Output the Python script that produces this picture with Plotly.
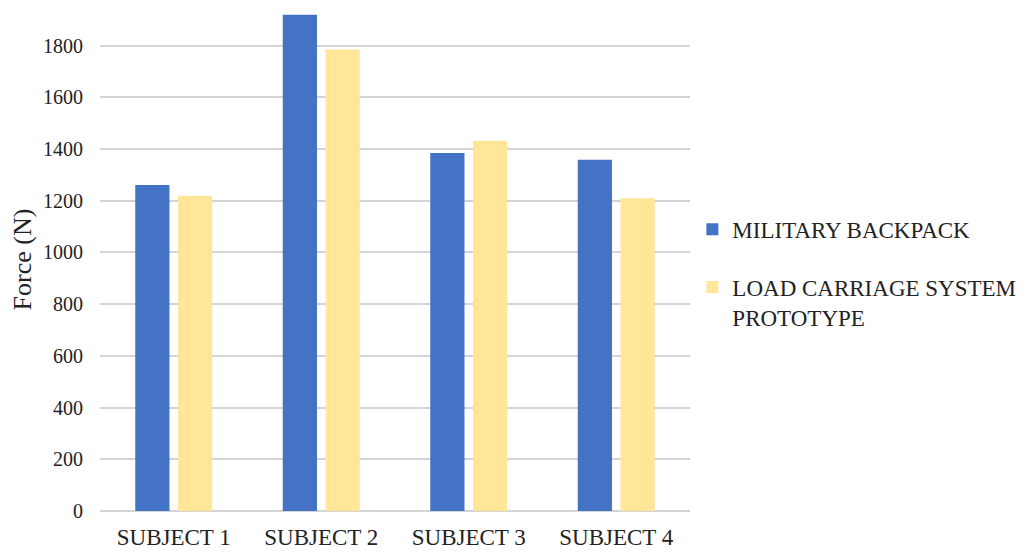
import plotly.graph_objects as go

categories = ["SUBJECT 1", "SUBJECT 2", "SUBJECT 3", "SUBJECT 4"]
military_backpack = [1261, 1919, 1384, 1358]
load_carriage = [1219, 1785, 1432, 1209]
series_names = ["MILITARY BACKPACK", "LOAD CARRIAGE SYSTEM<br>PROTOTYPE"]
y_ticks = [0, 200, 400, 600, 800, 1000, 1200, 1400, 1600, 1800]

FONT = "Liberation Serif, Times New Roman, serif"

fig = go.Figure()
fig.add_trace(go.Bar(x=categories, y=military_backpack, name=series_names[0],
                     marker=dict(color="#4472C4", line=dict(width=0)), legendgroup="a"))
fig.add_trace(go.Bar(x=categories, y=load_carriage, name=series_names[1],
                     marker=dict(color="#FFE699", line=dict(width=0)), legendgroup="b"))

fig.update_layout(
    width=1032, height=553,
    margin=dict(l=92, r=350, t=0, b=50),
    paper_bgcolor="white", plot_bgcolor="white",
    barmode="group", bargap=0.42, bargroupgap=0.2,
    font=dict(family=FONT, color="#222222"),
    showlegend=True,
    legend=dict(x=1.004, xanchor="left", y=0.603, yanchor="top",
                font=dict(family=FONT, size=23, color="#222222"),
                tracegroupgap=25, valign="top", bgcolor="rgba(0,0,0,0)"),
    xaxis=dict(showgrid=False, showline=False, ticks="", ticklabelstandoff=10,
               tickfont=dict(family=FONT, size=23, color="#222222")),
    yaxis=dict(range=[0, 1945], tickvals=y_ticks, showgrid=True,
               gridcolor="#d4d4d4", gridwidth=1.5, zeroline=True,
               zerolinecolor="#d4d4d4", zerolinewidth=1.5, showline=False,
               ticks="", ticklabelstandoff=16,
               tickfont=dict(family=FONT, size=20, color="#222222"),
               title=dict(text="Force (N)", standoff=14,
                          font=dict(family=FONT, size=26, color="#222222"))),
)

fig.write_html("out.html")
